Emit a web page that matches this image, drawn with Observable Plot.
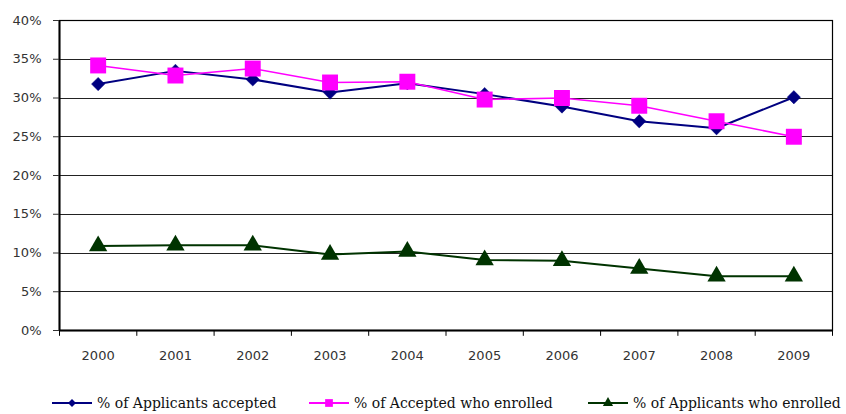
<!DOCTYPE html>
<html>
<head>
<meta charset="utf-8">
<script src="https://cdn.jsdelivr.net/npm/d3@7"></script>
<script src="https://cdn.jsdelivr.net/npm/@observablehq/plot@0.6"></script>
<style>
  html, body { margin: 0; padding: 0; background: #fff; }
  #wrap { position: relative; width: 846px; }
  #legend { position: relative; width: 846px; height: 26px; font-family: "DejaVu Serif", "Liberation Serif", serif; font-size: 14px; color: #111; }
  .item { position: absolute; top: 0; height: 26px; display: flex; align-items: center; white-space: nowrap; }
  .item span { font-family: "DejaVu Serif", serif; }
  .item svg { margin-right: 5px; }
</style>
</head>
<body>
<div id="wrap"></div>
<script>
const years = [2000, 2001, 2002, 2003, 2004, 2005, 2006, 2007, 2008, 2009];
const accepted = [31.8, 33.5, 32.4, 30.7, 31.9, 30.5, 28.9, 27.0, 26.1, 30.1];
const enrolledOfAccepted = [34.2, 32.9, 33.8, 32.0, 32.1, 29.8, 30.0, 29.0, 27.0, 25.0];
const enrolledOfApplicants = [10.9, 11.0, 11.0, 9.8, 10.2, 9.1, 9.0, 8.0, 7.0, 7.0];
const yTicks = [0, 5, 10, 15, 20, 25, 30, 35, 40];
const seriesNames = ["% of Applicants accepted", "% of Accepted who enrolled", "% of Applicants who enrolled"];
const seriesColors = ["#000080", "#FF00FF", "#003300"];
const seriesSymbols = ["diamond2", "square", "triangle"];

const boundaries = years.map(y => y - 0.5).concat([years[years.length - 1] + 0.5]);
const mk = vals => years.map((y, i) => ({year: y, value: vals[i]}));
const dA = mk(accepted), dB = mk(enrolledOfAccepted), dC = mk(enrolledOfApplicants);

const chart = Plot.plot({
  width: 846,
  height: 390,
  marginLeft: 59,
  marginRight: 14,
  marginTop: 20,
  marginBottom: 60,
  style: {fontFamily: "'DejaVu Sans', sans-serif", fontSize: "13px", color: "#333", background: "#fff"},
  x: {domain: [years[0] - 0.5, years[years.length - 1] + 0.5], axis: null, label: null},
  y: {domain: [0, 40], axis: null, label: null},
  marks: [
    Plot.ruleY(yTicks, {stroke: "#222", strokeWidth: 1, shapeRendering: "crispEdges"}),
    Plot.frame({stroke: "#000", strokeWidth: 1.2}),
    Plot.ruleX([years[0] - 0.5], {stroke: "#000", strokeWidth: 2}),
    Plot.ruleY([0], {stroke: "#000", strokeWidth: 2}),
    Plot.ruleX(boundaries, {y1: 0, y2: -0.75, stroke: "#000", strokeWidth: 1}),
    Plot.axisY(yTicks, {tickSize: 6, tickPadding: 12, tickFormat: d => d + "%", fontSize: 13, label: null}),
    Plot.axisX(years, {tickSize: 0, tickPadding: 20, tickFormat: d => String(d), fontSize: 13, label: null}),
    Plot.line(dA, {x: "year", y: "value", stroke: seriesColors[0], strokeWidth: 2}),
    Plot.dot(dA, {x: "year", y: "value", symbol: seriesSymbols[0], r: 6, fill: seriesColors[0], stroke: seriesColors[0], strokeWidth: 0.5}),
    Plot.line(dB, {x: "year", y: "value", stroke: seriesColors[1], strokeWidth: 1.6}),
    Plot.dot(dB, {x: "year", y: "value", symbol: seriesSymbols[1], r: 9, fill: seriesColors[1], stroke: "none"}),
    Plot.line(dC, {x: "year", y: "value", stroke: seriesColors[2], strokeWidth: 2}),
    Plot.dot(dC, {x: "year", y: "value", symbol: seriesSymbols[2], r: 6.8, fill: seriesColors[2], stroke: "none"})
  ]
});
document.getElementById("wrap").appendChild(chart);

// Legend
const legend = document.createElement("div");
legend.id = "legend";
const lefts = [52, 309, 588];
seriesNames.forEach((name, i) => {
  const item = document.createElement("div");
  item.className = "item";
  item.style.left = lefts[i] + "px";
  const s = d3.create("svg").attr("width", 40).attr("height", 14);
  s.append("line").attr("x1", 0).attr("x2", 40).attr("y1", 7).attr("y2", 7)
    .attr("stroke", seriesColors[i]).attr("stroke-width", 2);
  const sym = {diamond2: d3.symbolDiamond2, square: d3.symbolSquare, triangle: d3.symbolTriangle}[seriesSymbols[i]];
  const size = {diamond2: 40, square: 60, triangle: 45}[seriesSymbols[i]];
  s.append("path").attr("d", d3.symbol(sym, size)()).attr("transform", "translate(20,7)")
    .attr("fill", seriesColors[i]);
  item.appendChild(s.node());
  const t = document.createElement("span");
  t.textContent = name;
  item.appendChild(t);
  legend.appendChild(item);
});
document.getElementById("wrap").appendChild(legend);
</script>
</body>
</html>
